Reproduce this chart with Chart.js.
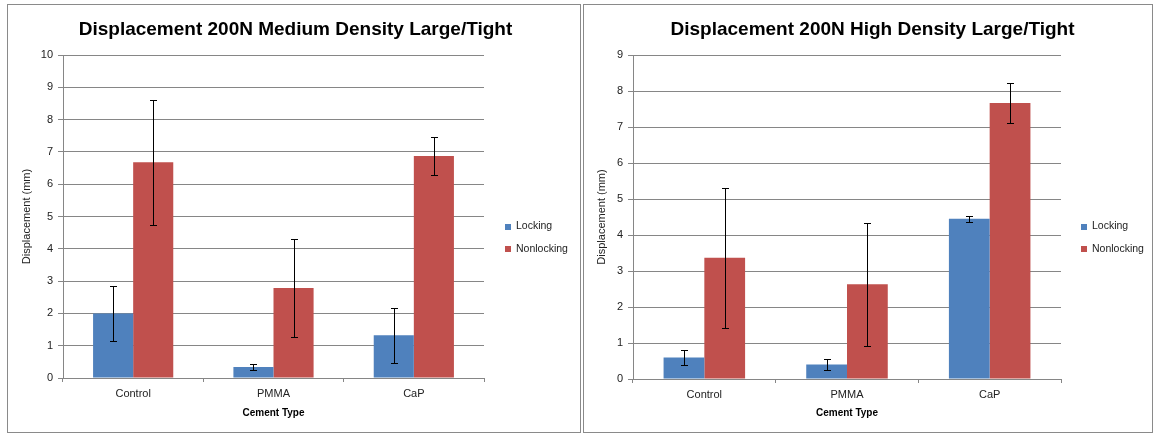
<!DOCTYPE html>
<html><head><meta charset="utf-8">
<script src="https://cdn.jsdelivr.net/npm/chart.js@4.4.1/dist/chart.umd.min.js"></script>
<style>
html,body{margin:0;padding:0;background:#fff;width:1157px;height:434px;overflow:hidden}
.panel{position:absolute;top:4px;border:1px solid #8a8a8a;box-sizing:border-box;height:429px;background:#fff}
.inner{position:absolute;left:0;top:0}
</style></head><body>
<div class="panel" style="left:7px;width:574px"><div class="inner" style="width:572px;height:426px"><canvas id="c1" width="572" height="426"></canvas></div></div>
<div class="panel" style="left:583px;width:570px"><div class="inner" style="width:568px;height:426px"><canvas id="c2" width="568" height="426"></canvas></div></div>
<script>
// ---- data ----
const categories = ['Control', 'PMMA', 'CaP'];
const seriesNames = ['Locking', 'Nonlocking'];
const titleMedium = 'Displacement 200N Medium Density Large/Tight';
const titleHigh = 'Displacement 200N High Density Large/Tight';
const yAxisTitle = 'Displacement (mm)';
const xAxisTitle = 'Cement Type';

const mediumLocking = [2.0, 0.34, 1.32];
const mediumLockingErr = [0.86, 0.09, 0.86];
const mediumNonlocking = [6.68, 2.79, 6.87];
const mediumNonlockingErr = [1.94, 1.52, 0.60];

const highLocking = [0.60, 0.40, 4.45];
const highLockingErr = [0.20, 0.15, 0.09];
const highNonlocking = [3.37, 2.63, 7.67];
const highNonlockingErr = [1.94, 1.70, 0.55];

const mediumYMax = 10;
const highYMax = 9;

const seriesColors = ['#4F81BD', '#C0504D'];
const FONT = '"Liberation Sans", Arial, sans-serif';
Chart.defaults.font.family = FONT;

const errorBarPlugin = {
  id: 'errorBars',
  afterDatasetsDraw(chart) {
    const ctx = chart.ctx, ys = chart.scales.y;
    chart.data.datasets.forEach((ds, i) => {
      const meta = chart.getDatasetMeta(i);
      meta.data.forEach((bar, j) => {
        const v = ds.data[j], e = ds.errors[j];
        const x = Math.round(bar.x) + 0.5;
        const yt = Math.round(ys.getPixelForValue(v + e)) + 0.5;
        const yb = Math.round(ys.getPixelForValue(v - e)) + 0.5;
        ctx.save();
        ctx.strokeStyle = '#000';
        ctx.lineWidth = 1;
        ctx.beginPath();
        ctx.moveTo(x, yt); ctx.lineTo(x, yb);
        ctx.moveTo(x - 3.5, yt); ctx.lineTo(x + 3.5, yt);
        ctx.moveTo(x - 3.5, yb); ctx.lineTo(x + 3.5, yb);
        ctx.stroke();
        ctx.restore();
      });
    });
  }
};

const sideLegendPlugin = {
  id: 'sideLegend',
  afterDraw(chart, args, opts) {
    const ctx = chart.ctx;
    ctx.save();
    chart.data.datasets.forEach((ds, i) => {
      const yy = opts.y + i * opts.spacing;
      ctx.fillStyle = ds.backgroundColor;
      ctx.fillRect(opts.x, Math.round(yy - 3), 6, 6);
      ctx.fillStyle = '#222';
      ctx.font = '10.5px ' + FONT;
      ctx.textBaseline = 'middle';
      ctx.textAlign = 'left';
      ctx.fillText(ds.label, opts.x + 11, yy);
    });
    ctx.restore();
  }
};

function makeChart(id, title, locking, lockingErr, nonlocking, nonlockingErr, yMax, cfg) {
  new Chart(document.getElementById(id), {
    type: 'bar',
    data: {
      labels: categories,
      datasets: [
        { label: seriesNames[0], data: locking, errors: lockingErr, backgroundColor: seriesColors[0], borderWidth: 0 },
        { label: seriesNames[1], data: nonlocking, errors: nonlockingErr, backgroundColor: seriesColors[1], borderWidth: 0 }
      ]
    },
    plugins: [errorBarPlugin, sideLegendPlugin],
    options: {
      responsive: false,
      animation: false,
      layout: { padding: { left: cfg.leftPad, top: 0, right: 0, bottom: 0 } },
      datasets: { bar: { barPercentage: 1.0, categoryPercentage: 4 / 7 } },
      plugins: {
        legend: { display: false },
        tooltip: { enabled: false },
        title: {
          display: true, text: title, color: '#000',
          font: { size: 19, weight: 'bold', family: FONT },
          padding: { top: 13, bottom: 50 - 13 - 22.8 }
        },
        sideLegend: { x: 497, y: 221.5, spacing: 22.2 }
      },
      scales: {
        x: {
          offset: true,
          grid: { drawOnChartArea: false, drawTicks: true, tickLength: 4, color: '#868686', offset: true },
          border: { color: '#868686' },
          ticks: { color: '#222', font: { size: 11 }, padding: 5 },
          title: { display: true, text: xAxisTitle, color: '#000', font: { size: 10, weight: 'bold' }, padding: { top: 0, bottom: 12 } },
          afterFit(s) { s.height = cfg.xHeight; }
        },
        y: {
          min: 0, max: yMax,
          ticks: { stepSize: 1, color: '#222', font: { size: 11 }, padding: 5 },
          grid: { color: '#868686', tickLength: 5 },
          border: { color: '#868686' },
          title: { display: true, text: yAxisTitle, color: '#222', font: { size: 11 }, padding: { top: cfg.yTitlePad, bottom: 0 } },
          afterFit(s) { s.width = cfg.yWidth; }
        },
        legendSpace: {
          type: 'linear', axis: 'y', position: 'right', display: true,
          grid: { display: false, drawTicks: false }, border: { display: false },
          ticks: { display: false },
          afterFit(s) { s.width = cfg.rightSpace; }
        }
      }
    }
  });
}

makeChart('c1', titleMedium, mediumLocking, mediumLockingErr, mediumNonlocking, mediumNonlockingErr, mediumYMax,
  { leftPad: 3, rightSpace: 96, xHeight: 53, yWidth: 52, yTitlePad: 9 });
makeChart('c2', titleHigh, highLocking, highLockingErr, highNonlocking, highNonlockingErr, highYMax,
  { leftPad: 9, rightSpace: 91, xHeight: 52, yWidth: 40, yTitlePad: 2 });
</script>
</body></html>
